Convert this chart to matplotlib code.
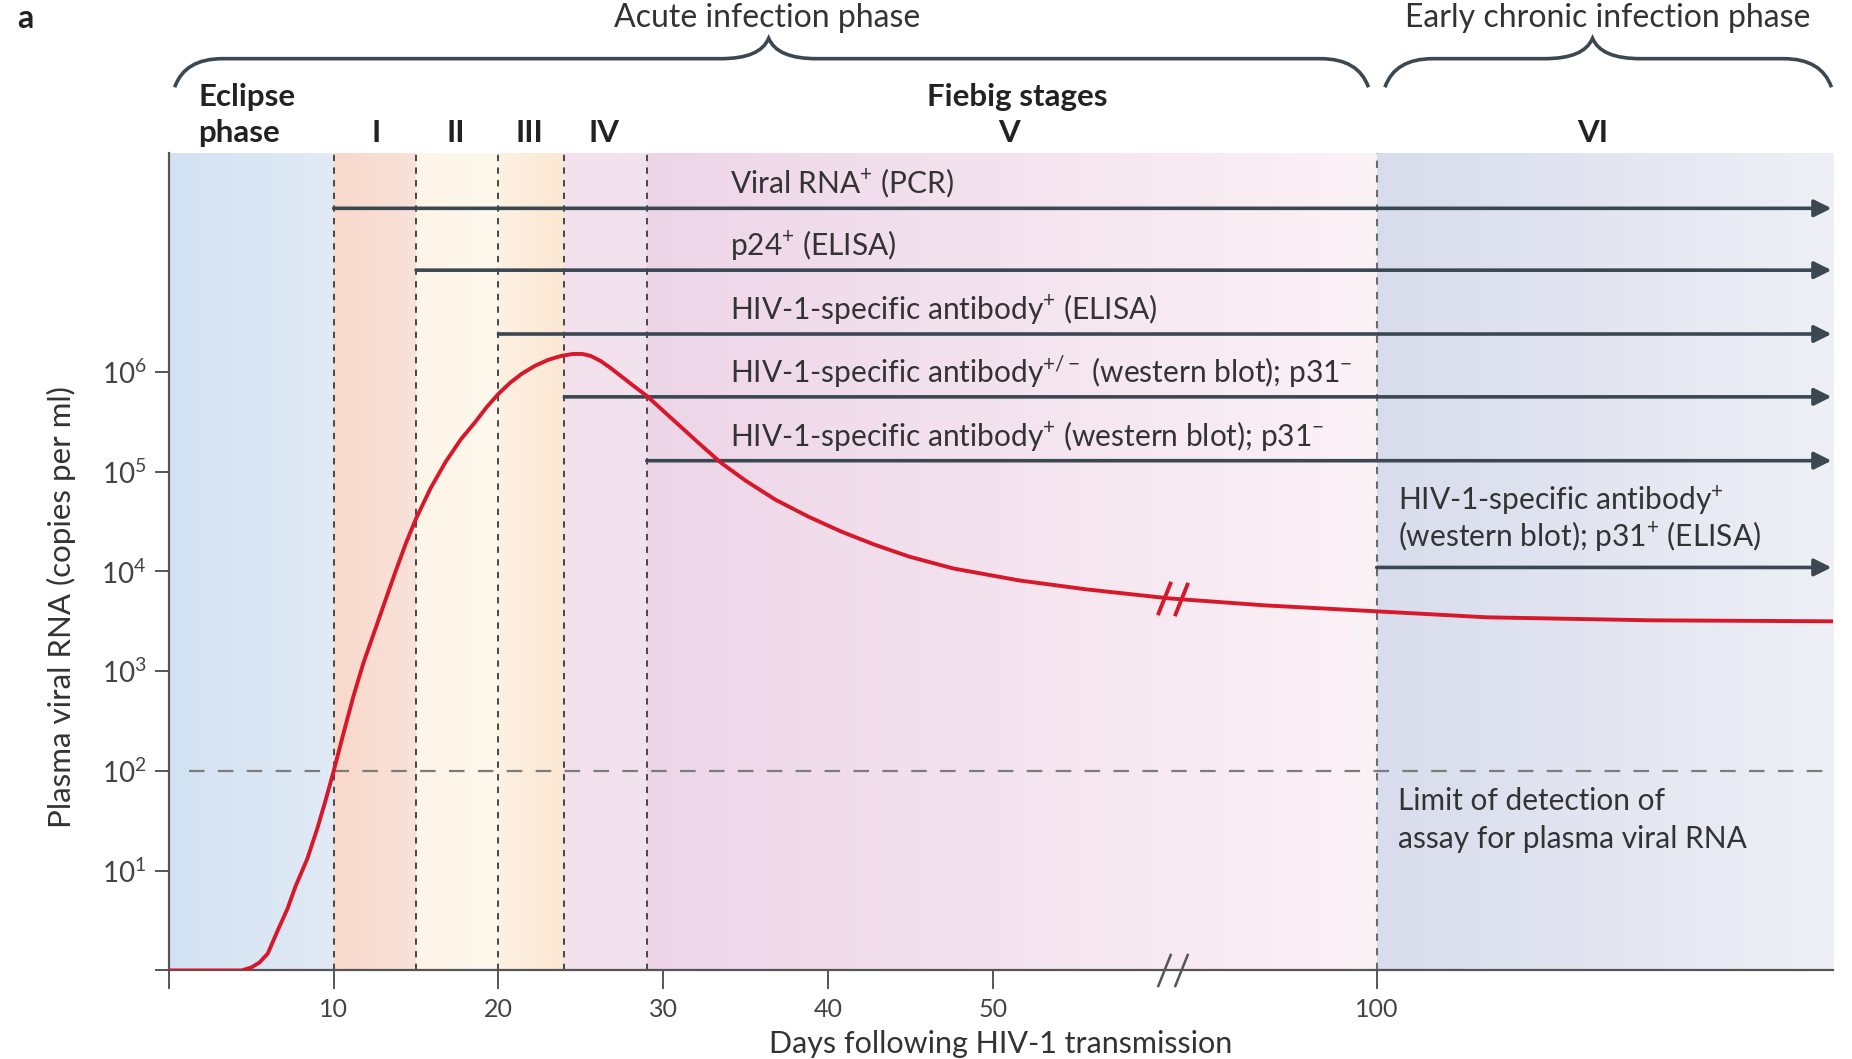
import numpy as np
import matplotlib
matplotlib.use("Agg")
import matplotlib.pyplot as plt
from matplotlib.path import Path
from matplotlib.patches import PathPatch
from matplotlib.colors import to_rgb

plt.rcParams['font.family'] = ['Lato', 'DejaVu Sans']
plt.rcParams['mathtext.fontset'] = 'custom'
plt.rcParams['mathtext.rm'] = 'Lato'
plt.rcParams['mathtext.it'] = 'Lato:italic'
plt.rcParams['mathtext.bf'] = 'Lato:bold'

# ---------------- data ----------------
# x is the axis position in days; after the axis break day 100 sits at 73.3
stage_edges = [0, 10, 15, 20, 24, 29, 73.3, 101]
stage_names = ['', 'I', 'II', 'III', 'IV', 'V', 'VI']
stage_label_x = [0, 12.6, 17.4, 21.9, 26.4, 51.0, 86.4]
stage_left = ['#d2e2f2', '#f8d9cb', '#fdf5e7', '#fdf1e2', '#f2e0ec', '#edd5e8', '#d8dcec']
stage_right = ['#e2eaf6', '#f9e2d9', '#fef8ee', '#fbe7d3', '#f3e3ee', '#fbf2f6', '#eef0f6']

tick_pos = [0, 10, 20, 30, 40, 50, 73.3]
tick_labels = ['', '10', '20', '30', '40', '50', '100']
break_pos = 60.9

# plasma viral RNA, log10 copies per ml
vl_day = [0, 4.4, 5.0, 5.5, 6.0, 6.6, 7.2, 7.7, 8.4, 9.0, 9.5, 10.0, 10.6, 11.2, 11.8, 12.5,
          13.2, 13.8, 14.4, 15.0, 15.9, 16.8, 17.7, 18.6, 19.3, 20.0, 20.7, 21.4, 22.2, 23.0,
          23.8, 24.5, 25.1, 25.6, 26.2, 26.8, 27.5, 28.2, 29.0, 30.0, 31.0, 32.2, 33.5, 35.0,
          36.8, 38.8, 40.8, 42.8, 44.9, 47.6, 51.6, 55.7, 60.7, 66.5, 73.3, 80.0, 90.0, 101.0]
vl_log = [0, 0, 0.03, 0.08, 0.17, 0.40, 0.62, 0.85, 1.12, 1.42, 1.70, 2.00, 2.38, 2.75, 3.08,
          3.41, 3.74, 4.02, 4.29, 4.53, 4.84, 5.10, 5.32, 5.50, 5.65, 5.78, 5.89, 5.98, 6.06,
          6.12, 6.16, 6.18, 6.18, 6.16, 6.11, 6.04, 5.95, 5.86, 5.76, 5.61, 5.46, 5.28, 5.09,
          4.91, 4.72, 4.55, 4.40, 4.27, 4.15, 4.03, 3.91, 3.82, 3.73, 3.66, 3.60, 3.54, 3.51,
          3.50]
detection_limit = 2  # log10(100 copies per ml)

assay_labels = [r'Viral RNA$^{+}$ (PCR)',
                r'p24$^{+}$ (ELISA)',
                r'HIV-1-specific antibody$^{+}$ (ELISA)',
                r'HIV-1-specific antibody$^{+/-}$ (western blot); p31$^{-}$',
                r'HIV-1-specific antibody$^{+}$ (western blot); p31$^{-}$',
                r'HIV-1-specific antibody$^{+}$' + '\n' + r'(western blot); p31$^{+}$ (ELISA)']
assay_start = [10, 15, 20, 24, 29, 73.3]
assay_level = [7.64, 7.02, 6.38, 5.75, 5.11, 4.04]

ytop = 8.19
ink = '#3b4852'
red = '#d7182a'
txt = '#333'
fs_lab = 21.5

fig = plt.figure(figsize=(18.52, 10.59), dpi=100)
ax = fig.add_axes([0.0912, 0.0836, 0.8986, 0.7715])
ax.set_xlim(0, 101)
ax.set_ylim(0, ytop)

# background gradient for every stage
for i in range(len(stage_names)):
    c0 = np.array(to_rgb(stage_left[i]))
    c1 = np.array(to_rgb(stage_right[i]))
    t = np.linspace(0, 1, 200)[:, None]
    img = (c0 * (1 - t) + c1 * t)[None, :, :]
    ax.imshow(img, extent=(stage_edges[i], stage_edges[i + 1], 0, ytop),
              aspect='auto', zorder=0, interpolation='bilinear')

# stage borders
ax.vlines(stage_edges[1:-2], 0, ytop, colors='#3a3a3a', linestyles=(0, (3.5, 3.5)), lw=1.3, zorder=2)
ax.vlines(stage_edges[-2], 0, ytop, colors='#6a6a6a', linestyles=(0, (3.5, 3.5)), lw=1.5, zorder=2)

# limit of detection
ax.hlines(detection_limit, 1.2, 101, colors='#7c7c7c', linestyles=(0, (7, 6)), lw=1.6, zorder=2)
ax.text(74.6, 1.70, 'Limit of detection of', fontsize=fs_lab, color=txt, va='center')
ax.text(74.6, 1.32, 'assay for plasma viral RNA', fontsize=fs_lab, color=txt, va='center')

# assay arrows
for lab, x0, yl in zip(assay_labels, assay_start, assay_level):
    ax.annotate('', xy=(100.9, yl), xytext=(x0, yl),
                arrowprops=dict(arrowstyle='-|>', color=ink, lw=2.6, mutation_scale=26,
                                shrinkA=0, shrinkB=0), zorder=4)
    if x0 < 70:
        ax.text(34.05, yl + 0.25, lab, fontsize=fs_lab, color=txt, va='center', zorder=5)
    else:
        ax.text(74.6, yl + 0.14, lab, fontsize=fs_lab, color=txt, va='bottom',
                linespacing=1.1, zorder=5)

# viral load curve
ax.plot(vl_day, vl_log, color=red, lw=2.8, zorder=6, solid_capstyle='butt', solid_joinstyle='round')
slash = [(-0.4, -1), (0.4, 1)]
ax.plot([break_pos - 0.5, break_pos + 0.5], [3.735, 3.725], ls='none', marker=slash,
        markersize=24, markeredgewidth=2.8, color=red, zorder=7)
ax.plot([break_pos - 0.5, break_pos + 0.5], [0, 0], ls='none', marker=slash,
        markersize=24, markeredgewidth=1.8, color='#555', zorder=7, clip_on=False)

# axes
for s in ['top', 'right']:
    ax.spines[s].set_visible(False)
for s in ['left', 'bottom']:
    ax.spines[s].set_color('#555')
    ax.spines[s].set_linewidth(1.6)
ax.set_xticks(tick_pos, tick_labels)
ax.set_yticks(range(7), [''] + [r'$10^{%d}$' % k for k in range(1, 7)])
ax.tick_params(axis='x', direction='out', length=14, width=1.4, color='#555',
               labelsize=18, labelcolor='#444', pad=6)
ax.tick_params(axis='y', direction='out', length=10, width=1.4, color='#555',
               labelsize=20, labelcolor='#444', pad=6)
ax.set_xlabel('Days following HIV-1 transmission', fontsize=22, color=txt, labelpad=6)
ax.set_ylabel('Plasma viral RNA (copies per ml)', fontsize=22.5, color=txt)
ax.yaxis.set_label_coords(-0.056, 0.445)

# header: stages
tr = ax.get_xaxis_transform()
for name, xs in zip(stage_names, stage_label_x):
    if name:
        ax.text(xs, 1.0246, name, transform=tr,
                fontsize=22.5, fontweight='bold', color='#222', ha='center', va='center')
ax.text(1.8, 1.069, 'Eclipse', transform=tr, fontsize=22.5, fontweight='bold', color='#222', va='center')
ax.text(1.8, 1.0246, 'phase', transform=tr, fontsize=22.5, fontweight='bold', color='#222', va='center')
ax.text(51.5, 1.069, 'Fiebig stages', transform=tr, fontsize=22.5, fontweight='bold', color='#222',
        ha='center', va='center')


# curly braces over the phases
def brace(x0, x1, xp, y_end=1.081, y_mid=1.116, y_peak=1.141, w=2.9):
    verts = [(x0, y_end), (x0 + 0.6, y_mid), (x0 + w, y_mid),
             (xp - w, y_mid),
             (xp - 0.5, y_mid), (xp, y_peak),
             (xp + 0.5, y_mid), (xp + w, y_mid),
             (x1 - w, y_mid),
             (x1 - 0.6, y_mid), (x1, y_end)]
    codes = [Path.MOVETO, Path.CURVE3, Path.CURVE3, Path.LINETO,
             Path.CURVE3, Path.CURVE3, Path.CURVE3, Path.CURVE3,
             Path.LINETO, Path.CURVE3, Path.CURVE3]
    ax.add_patch(PathPatch(Path(verts, codes), transform=tr, fill=False,
                           edgecolor=ink, lw=2.6, clip_on=False))


brace(0.35, 72.8, 36.4)
brace(73.8, 100.9, 86.4)
ax.text(36.3, 1.166, 'Acute infection phase', transform=tr, fontsize=23, color=txt,
        ha='center', va='center')
ax.text(87.3, 1.166, 'Early chronic infection phase', transform=tr, fontsize=23, color=txt,
        ha='center', va='center')

fig.text(0.0095, 0.983, 'a', fontsize=23, fontweight='bold', color='#222', va='center')

fig.savefig('out.png', dpi=100, facecolor='white')
